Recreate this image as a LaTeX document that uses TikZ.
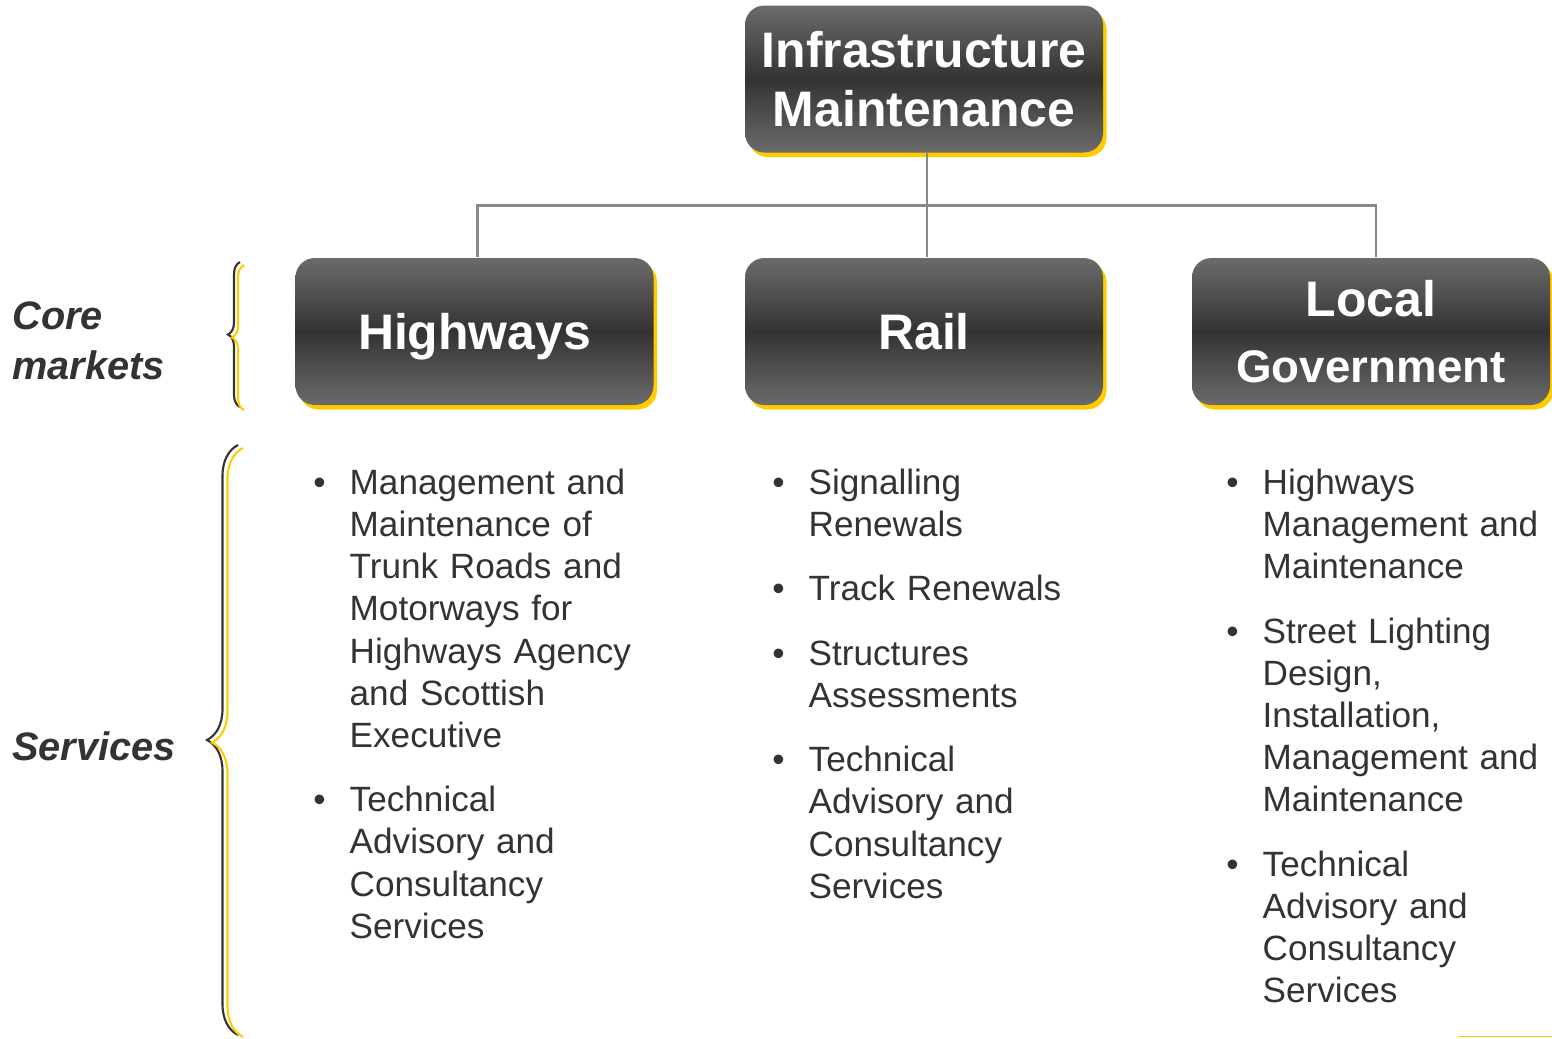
\documentclass[tikz,border=0pt]{standalone}
\usepackage{fontspec}
\setmainfont{Liberation Sans}
\usepackage{enumitem}
\definecolor{imdark}{HTML}{333333}
\definecolor{imlight}{HTML}{6B6B6B}
\definecolor{imyellow}{HTML}{FFCC00}
\definecolor{imline}{HTML}{888888}
\definecolor{imtext}{HTML}{333333}
\usetikzlibrary{positioning, shadows, decorations.pathreplacing}
\setlist[itemize]{label=\textbullet, leftmargin=0.4cm, labelsep=0.24cm,
                  itemsep=6.3pt, parsep=0pt, topsep=0pt, partopsep=0pt}

\begin{document}
\begin{tikzpicture}[
    every node/.style={text=imtext},
    market/.style={rounded corners=5.5pt, minimum width=3.58cm, minimum height=1.47cm,
                   top color=imlight, bottom color=imlight, middle color=imdark,
                   general shadow={fill=imyellow, shadow xshift=0.035cm, shadow yshift=-0.045cm},
                   text=white, text depth=0pt, align=center,
                   font=\fontsize{14.2}{17}\selectfont\bfseries},
    side/.style={anchor=west, align=left, font=\fontsize{11.3}{14.2}\selectfont\bfseries\itshape},
    services/.style={anchor=north west, inner sep=0pt, text width=3.6cm, align=left,
                     font=\fontsize{10}{12}\selectfont},
    link/.style={draw=imline, line width=0.8pt},
    bracket/.style={decorate, decoration={brace, amplitude=#1}, line width=0.6pt}
  ]
    \useasboundingbox (0,0) rectangle (15.52,-10.38);

    % top of the tree and the three markets
    \node[market] (im) at (9.24,-0.79) {Infrastructure\\Maintenance};
    \node[market] (hw) at (4.745,-3.315) {Highways};
    \node[market] (rail) at (9.24,-3.315) {Rail};
    \node[market] (lg) at (13.71,-3.315) {Local\\[1.6pt]{\fontsize{13}{15}\selectfont Government}};

    \draw[link] ([xshift=0.03cm]im.south) -- ++(0,-0.52) coordinate (bus);
    \draw[link] ([xshift=0.03cm]hw.north) |- (bus) -| ([xshift=0.05cm]lg.north);
    \draw[link] ([xshift=0.03cm]rail.north) -- (bus);

    % row labels with their braces
    \node[side] (core) at (0.0,-3.41) {Core\\markets};
    \node[side] (svc) at (0.0,-7.46) {Services};

    \draw[bracket=0.12cm, imdark] (2.40,-4.07) -- (2.40,-2.62);
    \draw[bracket=0.12cm, imyellow] (2.44,-4.10) -- (2.44,-2.65);
    \draw[bracket=0.31cm, imdark] (2.38,-10.35) -- (2.38,-4.45);
    \draw[bracket=0.31cm, imyellow] (2.43,-10.37) -- (2.43,-4.48);

    % services per market
    \node[services] (hwlist) at (3.09,-4.515) {%
      \begin{itemize}
        \item Management and\\ Maintenance of\\ Trunk Roads and\\ Motorways for\\
              Highways Agency\\ and Scottish\\ Executive
        \item Technical\\ Advisory and\\ Consultancy\\ Services
      \end{itemize}};
    \node[services] (raillist) at (7.68,-4.515) {%
      \begin{itemize}
        \item Signalling\\ Renewals
        \item Track Renewals
        \item Structures\\ Assessments
        \item Technical\\ Advisory and\\ Consultancy\\ Services
      \end{itemize}};
    \node[services] (lglist) at (12.22,-4.515) {%
      \begin{itemize}
        \item Highways\\ Management and\\ Maintenance
        \item Street Lighting\\ Design,\\ Installation,\\ Management and\\ Maintenance
        \item Technical\\ Advisory and\\ Consultancy\\ Services
      \end{itemize}};

    \draw[imyellow, line width=0.4pt] (14.58,-10.365) -- (15.52,-10.365);
\end{tikzpicture}
\end{document}
